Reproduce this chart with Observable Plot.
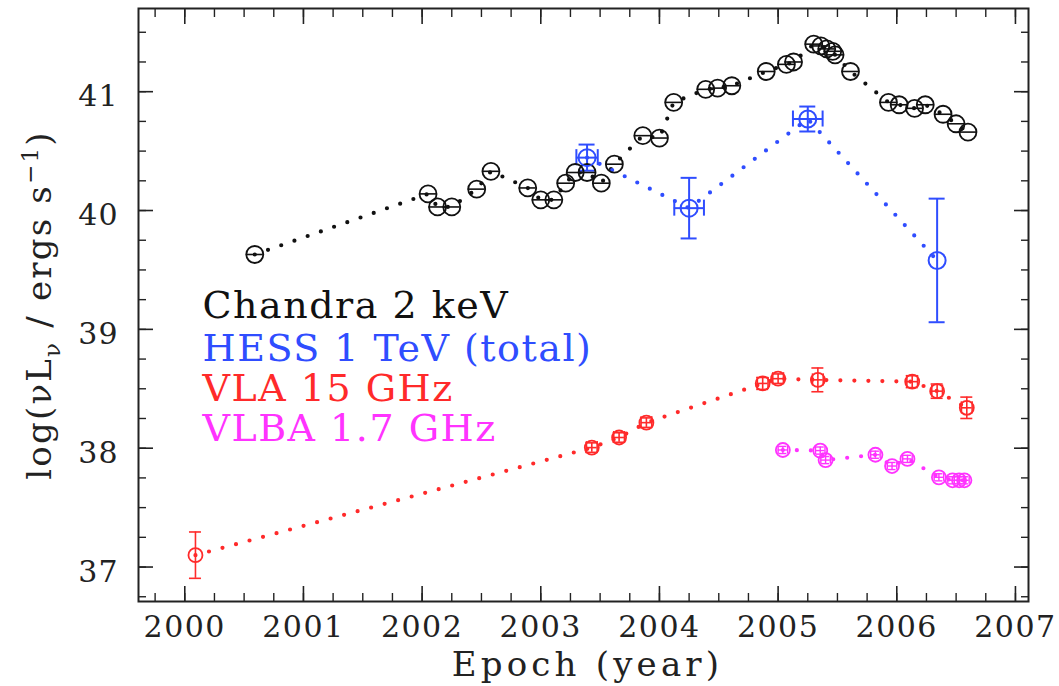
<!DOCTYPE html>
<html><head><meta charset="utf-8">
<script src="https://cdn.jsdelivr.net/npm/d3@7"></script>
<script src="https://cdn.jsdelivr.net/npm/@observablehq/plot@0.6"></script>
<style>body{margin:0;background:#fff}</style>
</head><body><div id="chart"></div>
<script>
// ---- data ----
const chandraYear = [2000.59, 2002.05, 2002.13, 2002.25, 2002.46, 2002.58, 2002.89, 2003.00, 2003.11, 2003.21, 2003.29, 2003.39, 2003.51, 2003.62, 2003.86, 2004.00, 2004.12, 2004.39, 2004.49, 2004.61, 2004.90, 2005.07, 2005.13, 2005.30, 2005.36, 2005.41, 2005.46, 2005.48, 2005.61, 2005.93, 2006.02, 2006.15, 2006.24, 2006.39, 2006.50, 2006.60];
const chandraLogL = [39.63, 40.14, 40.03, 40.03, 40.18, 40.33, 40.19, 40.09, 40.09, 40.23, 40.32, 40.32, 40.23, 40.39, 40.63, 40.61, 40.91, 41.02, 41.03, 41.05, 41.17, 41.23, 41.25, 41.40, 41.385, 41.36, 41.34, 41.31, 41.17, 40.91, 40.89, 40.86, 40.89, 40.81, 40.73, 40.66];

const hessYear = [2003.39, 2004.25, 2005.25, 2006.34];
const hessLogL = [40.445, 40.02, 40.77, 39.58];
const hessErrY = [0.11, 0.255, 0.105, 0.52];
const hessErrX = [0.09, 0.125, 0.125, 0];

const vlaYear = [2000.09, 2003.43, 2003.66, 2003.89, 2004.87, 2005.00, 2005.335, 2006.13, 2006.34, 2006.59];
const vlaLogL = [37.10, 38.005, 38.09, 38.215, 38.545, 38.585, 38.575, 38.56, 38.48, 38.34];
const vlaErrY = [0.195, 0.04, 0.04, 0.04, 0.05, 0.04, 0.10, 0.05, 0.06, 0.09];
const vlaErrX = [0, 0.045, 0.045, 0.045, 0.045, 0.045, 0.045, 0.045, 0.045, 0.045];

const vlbaYear = [2005.04, 2005.355, 2005.40, 2005.82, 2005.96, 2006.09, 2006.355, 2006.47, 2006.525, 2006.57];
const vlbaLogL = [37.985, 37.98, 37.90, 37.945, 37.85, 37.91, 37.755, 37.73, 37.73, 37.73];
const vlbaErrY = [0.03, 0.03, 0.03, 0.03, 0.03, 0.03, 0.03, 0.03, 0.03, 0.03];
const vlbaErrX = [0.04, 0.04, 0.04, 0.04, 0.04, 0.04, 0.04, 0.04, 0.04, 0.04];

const legendLabels = ["Chandra 2 keV", "HESS 1 TeV (total)", "VLA 15 GHz", "VLBA 1.7 GHz"];
const legendColors = ["#111111", "#2f4dff", "#ff2a2a", "#ff33ff"];

const xMajor = [2000, 2001, 2002, 2003, 2004, 2005, 2006, 2007];
const xMinor = d3.range(1999.75, 2007.01, 0.25);
const yMajor = [37, 38, 39, 40, 41];
const yMinor = d3.range(36.75, 41.51, 0.25);

const xLabel = "Epoch (year)";
const yLabel = "log(νLν / ergs s−1)";

// ---- build ----
const rows = (years, vals, ey, ex) => years.map((x, i) => ({x, y: vals[i], ey: ey ? ey[i] : 0, ex: ex ? ex[i] : 0}));
const chandra = rows(chandraYear, chandraLogL);
const hess = rows(hessYear, hessLogL, hessErrY, hessErrX);
const vla = rows(vlaYear, vlaLogL, vlaErrY, vlaErrX);
const vlba = rows(vlbaYear, vlbaLogL, vlbaErrY, vlbaErrX);

function errMarks(data, color, capY, capX, sw) {
  const ye = data.filter(d => d.ey > 0), xe = data.filter(d => d.ex > 0);
  return [
    Plot.ruleX(ye, {x: "x", y1: d => d.y - d.ey, y2: d => d.y + d.ey, stroke: color, strokeWidth: sw}),
    Plot.ruleY(ye, {y: d => d.y + d.ey, x1: "x", x2: "x", insetLeft: -capY, insetRight: -capY, stroke: color, strokeWidth: sw}),
    Plot.ruleY(ye, {y: d => d.y - d.ey, x1: "x", x2: "x", insetLeft: -capY, insetRight: -capY, stroke: color, strokeWidth: sw}),
    Plot.ruleY(xe, {y: "y", x1: d => d.x - d.ex, x2: d => d.x + d.ex, stroke: color, strokeWidth: sw}),
    Plot.ruleX(xe, {x: d => d.x - d.ex, y1: "y", y2: "y", insetTop: -capX, insetBottom: -capX, stroke: color, strokeWidth: sw}),
    Plot.ruleX(xe, {x: d => d.x + d.ex, y1: "y", y2: "y", insetTop: -capX, insetBottom: -capX, stroke: color, strokeWidth: sw})
  ];
}
const dotted = (data, color) => Plot.line(data, {x: "x", y: "y", stroke: color, strokeWidth: 4.2, strokeDasharray: "0 14", strokeLinecap: "round"});

const axisFont = 30;
const chart = Plot.plot({
  width: 1059, height: 686,
  marginLeft: 138, marginRight: 31, marginTop: 8, marginBottom: 85,
  style: {fontFamily: "DejaVu Serif", background: "#fff", color: "#222"},
  x: {domain: [1999.61, 2007.11]},
  y: {domain: [36.71, 41.70]},
  marks: [
    // axes: tick labels
    Plot.axisX({ticks: xMajor, tickSize: 0, tickPadding: 14, tickFormat: d => String(d), fontSize: axisFont, label: null}),
    Plot.axisY({ticks: yMajor, tickSize: 0, tickPadding: 20, dy: 5, tickFormat: d => String(d), fontSize: axisFont, label: null}),
    // inward ticks on all four sides
    ...["bottom", "top"].flatMap(a => [
      Plot.axisX({anchor: a, ticks: xMajor, tickSize: -15, fill: "none", strokeWidth: 1.6}),
      Plot.axisX({anchor: a, ticks: xMinor, tickSize: -8, fill: "none", strokeWidth: 1.4})
    ]),
    ...["left", "right"].flatMap(a => [
      Plot.axisY({anchor: a, ticks: yMajor, tickSize: -15, fill: "none", strokeWidth: 1.6}),
      Plot.axisY({anchor: a, ticks: yMinor, tickSize: -8, fill: "none", strokeWidth: 1.4})
    ]),
    Plot.frame({stroke: "#222", strokeWidth: 2}),
    // dotted connecting lines
    dotted(chandra, legendColors[0]),
    dotted(hess, legendColors[1]),
    dotted(vla, legendColors[2]),
    dotted(vlba, legendColors[3]),
    // error bars
    ...errMarks(hess, legendColors[1], 8, 8, 2),
    ...errMarks(vla, legendColors[2], 6, 6, 1.6),
    ...errMarks(vlba, legendColors[3], 4, 4, 1.4),
    Plot.ruleY(chandra, {y: "y", x1: "x", x2: "x", insetLeft: -8.5, insetRight: -8.5, stroke: legendColors[0], strokeWidth: 1.6}),
    // markers
    Plot.dot(chandra, {x: "x", y: "y", r: 8.5, stroke: legendColors[0], strokeWidth: 1.8, fill: "none"}),
    Plot.dot(hess, {x: "x", y: "y", r: 8.5, stroke: legendColors[1], strokeWidth: 2, fill: "none"}),
    Plot.dot(vla, {x: "x", y: "y", r: 7, stroke: legendColors[2], strokeWidth: 1.8, fill: "none"}),
    Plot.dot(vlba, {x: "x", y: "y", r: 7, stroke: legendColors[3], strokeWidth: 1.8, fill: "none"}),
    // legend inside the frame
    ...legendLabels.map((lab, i) => Plot.text([lab], {
      text: d => d, frameAnchor: "top-left", textAnchor: "start", lineAnchor: "bottom",
      dx: 64, dy: [309, 352, 392, 432][i], fill: legendColors[i], fontSize: 38
    })),
    // axis titles
    Plot.text([xLabel], {text: d => d, frameAnchor: "bottom", textAnchor: "middle", lineAnchor: "bottom", dy: 74, dx: 4, fontSize: 34, fill: "#222"}),
    Plot.text([yLabel], {text: d => d, frameAnchor: "left", textAnchor: "middle", lineAnchor: "bottom", rotate: -90, dx: -88, fontSize: 34, fill: "#222"})
  ]
});

// letter spacing and sub/superscripts (post-processing of Plot's text elements)
const spacing = new Map([...legendLabels.map(l => [l, "1.5px"]), [xLabel, "4.2px"], [yLabel, "2.2px"]]);
const ns = "http://www.w3.org/2000/svg";
for (const t of chart.querySelectorAll("text")) {
  const s = t.textContent;
  if (spacing.has(s)) t.style.letterSpacing = spacing.get(s);
  else if (/^\d{4}$/.test(s)) t.style.letterSpacing = "1.5px";
  else if (/^\d{2}$/.test(s)) t.style.letterSpacing = "1px";
  if (s === yLabel) {
    t.textContent = "";
    const parts = [["log(νL", 0, null], ["ν", 9, 23], [" / ergs s", -9, null], ["−1", -13, 23], [")", 13, null]];
    for (const [txt, dy, fs] of parts) {
      const ts = document.createElementNS(ns, "tspan");
      ts.textContent = txt;
      if (dy) ts.setAttribute("dy", dy);
      if (fs) ts.style.fontSize = fs + "px";
      t.appendChild(ts);
    }
  }
}
document.getElementById("chart").appendChild(chart);
</script>
</body></html>
